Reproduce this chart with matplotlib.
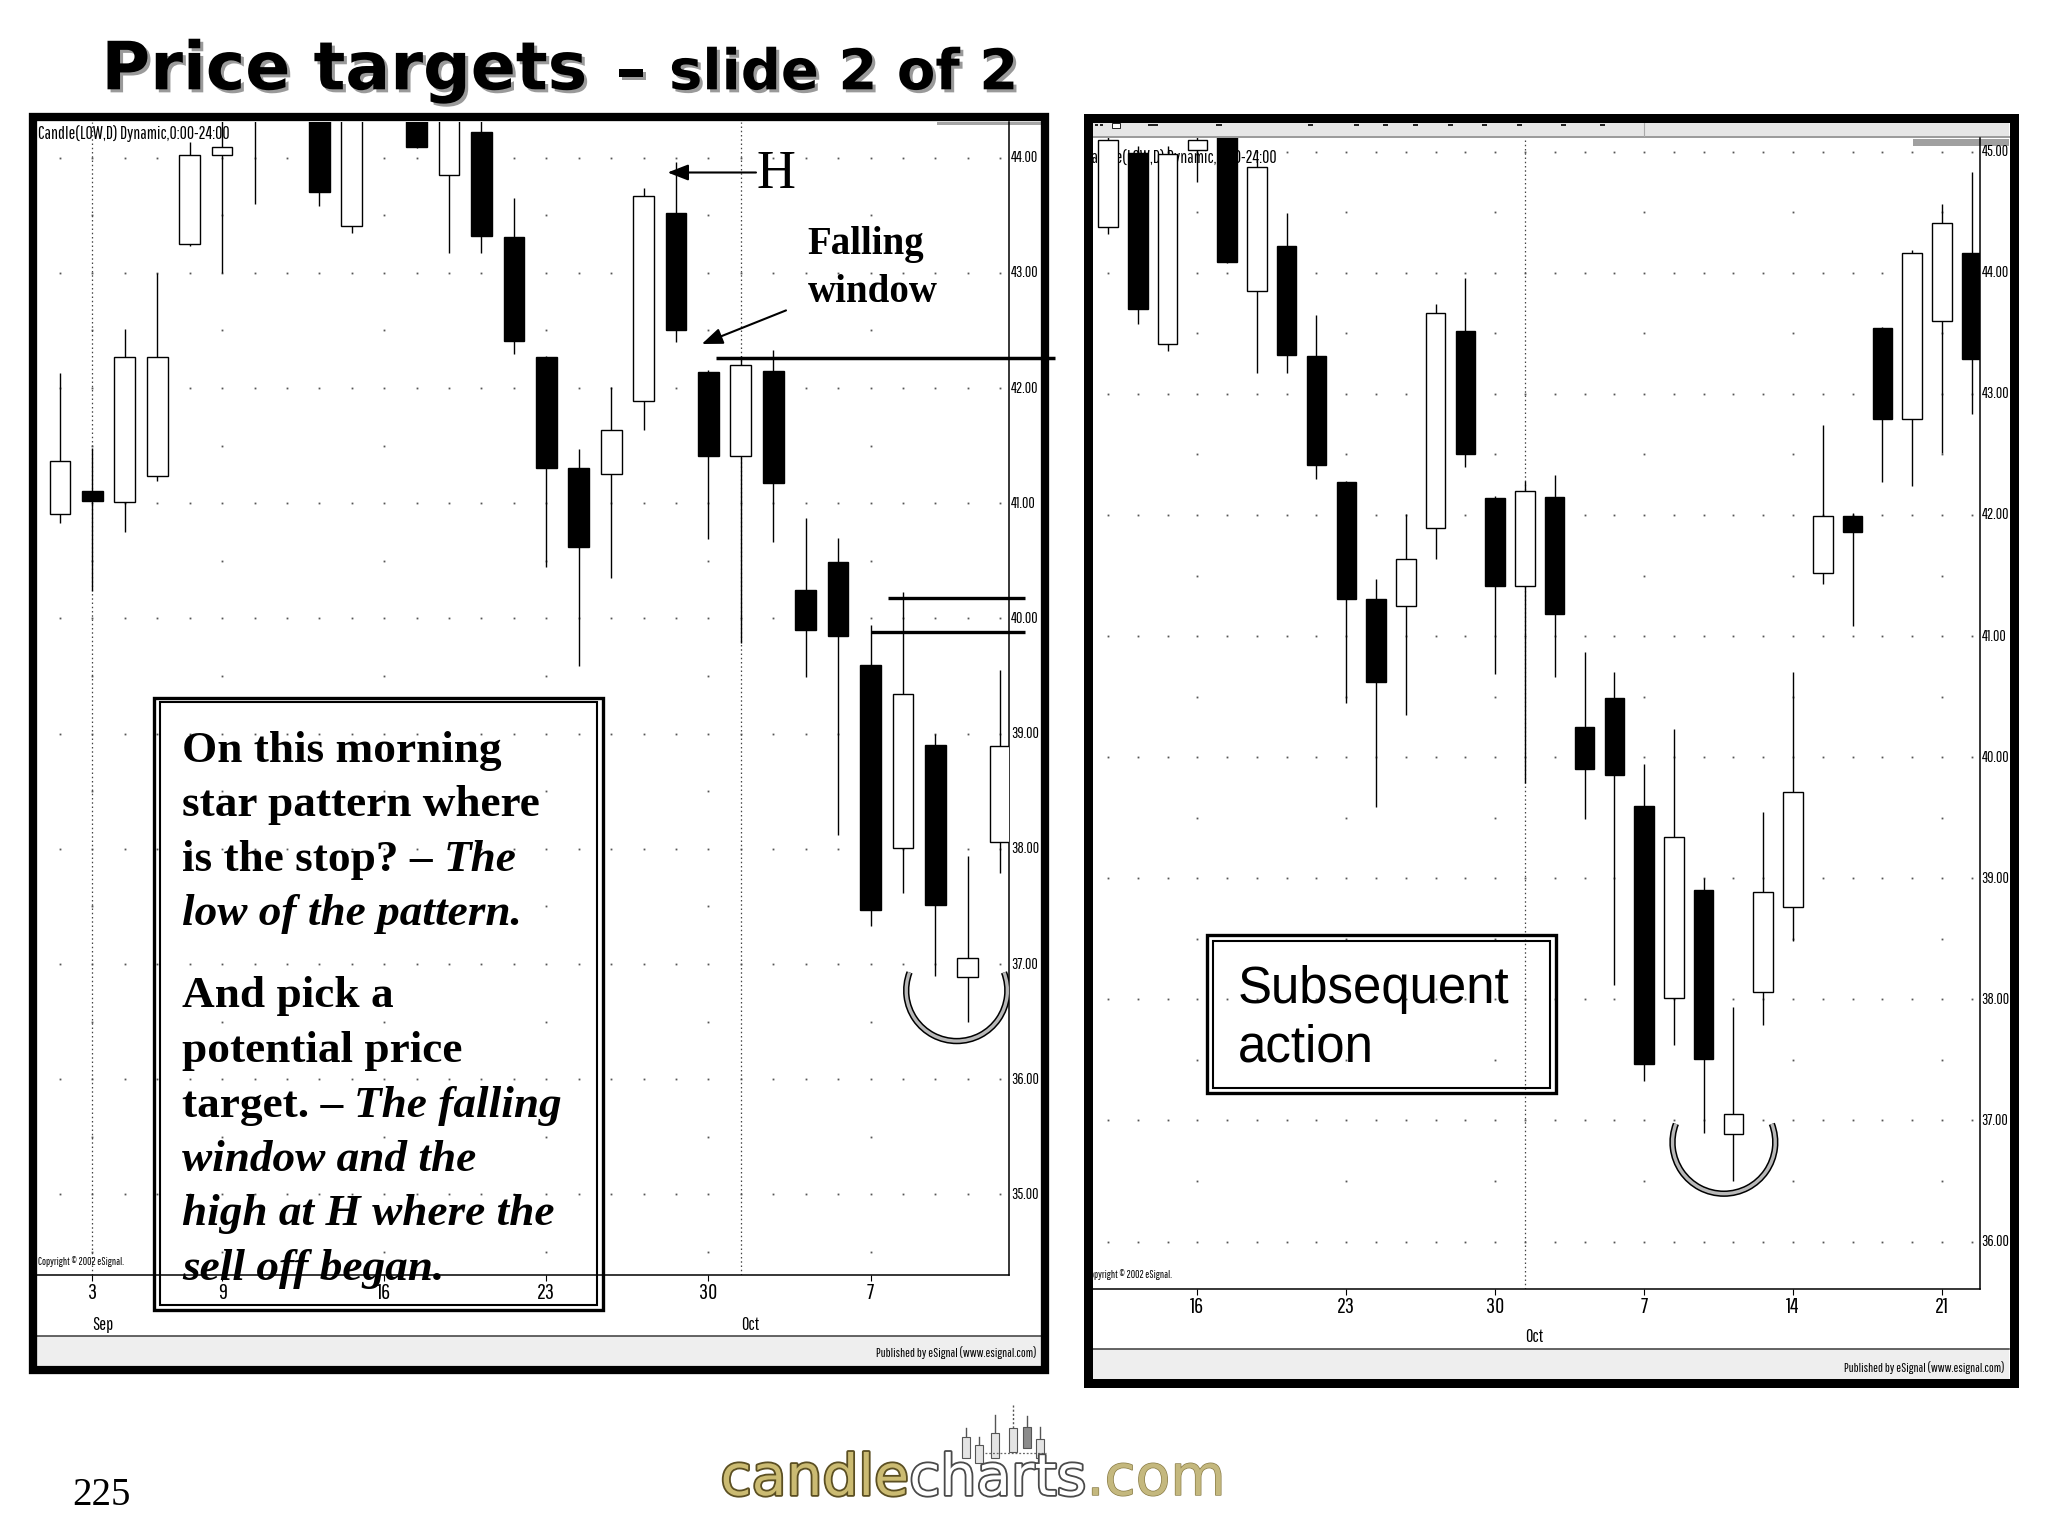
import numpy as np
import matplotlib
matplotlib.use("Agg")
import matplotlib.pyplot as plt
import matplotlib.patheffects as pe
from matplotlib import font_manager, transforms
from matplotlib.patches import Rectangle, Arc

W, H = 2048, 1536
SERIF = "Liberation Serif"
SANS = "Liberation Sans"

# daily candles 30 Aug - 22 Oct 2002
days = ["Aug 30",
        "Sep 3", "Sep 4", "Sep 5", "Sep 6",
        "Sep 9", "Sep 10", "Sep 11", "Sep 12", "Sep 13",
        "Sep 16", "Sep 17", "Sep 18", "Sep 19", "Sep 20",
        "Sep 23", "Sep 24", "Sep 25", "Sep 26", "Sep 27",
        "Sep 30", "Oct 1", "Oct 2", "Oct 3", "Oct 4",
        "Oct 7", "Oct 8", "Oct 9", "Oct 10", "Oct 11",
        "Oct 14", "Oct 15", "Oct 16", "Oct 17", "Oct 18",
        "Oct 21", "Oct 22"]
opens = [40.91, 41.11, 41.01, 41.24, 43.25, 44.02, 44.50, 44.38, 44.99, 43.41,
         45.01, 45.30, 43.85, 44.22, 43.31, 42.27, 41.31, 41.25, 41.89, 43.52,
         42.14, 41.41, 42.15, 40.25, 40.49, 39.60, 38.01, 38.90, 36.89, 38.06,
         38.76, 41.52, 41.99, 43.54, 42.79, 43.60, 44.16]
highs = [42.13, 41.48, 42.51, 43.00, 44.14, 44.50, 45.30, 45.30, 45.05, 45.05,
         45.20, 45.40, 44.94, 44.49, 43.65, 42.28, 41.47, 42.01, 43.74, 43.96,
         42.16, 42.28, 42.33, 40.87, 40.70, 39.94, 40.23, 39.00, 37.94, 39.55,
         40.70, 42.74, 42.02, 43.55, 44.19, 44.57, 44.83]
lows = [40.83, 40.24, 40.75, 41.19, 43.23, 43.00, 43.60, 44.32, 43.58, 43.35,
        44.75, 44.08, 43.17, 43.17, 42.30, 40.45, 39.59, 40.35, 41.64, 42.40,
        40.69, 39.79, 40.66, 39.49, 38.12, 37.33, 37.62, 36.90, 36.50, 37.79,
        38.48, 41.43, 41.08, 42.27, 42.24, 42.51, 42.83]
closes = [41.37, 41.02, 42.27, 42.27, 44.02, 44.09, 45.10, 45.10, 43.70, 44.98,
          45.10, 44.09, 44.87, 43.32, 42.41, 41.31, 40.62, 41.64, 43.67, 42.50,
          41.41, 42.20, 41.18, 39.90, 39.85, 37.47, 39.34, 37.51, 37.05, 38.89,
          39.71, 41.99, 41.86, 42.79, 44.16, 44.41, 43.29]

left_week_days = ["Sep 3", "Sep 9", "Sep 16", "Sep 23", "Sep 30", "Oct 7"]
left_week_labels = ["3", "9", "16", "23", "30", "7"]
left_month_days = ["Sep 3", "Oct 1"]
left_month_labels = ["Sep", "Oct"]
left_levels = [35, 36, 37, 38, 39, 40, 41, 42, 43, 44]

right_week_days = ["Sep 16", "Sep 23", "Sep 30", "Oct 7", "Oct 14", "Oct 21"]
right_week_labels = ["16", "23", "30", "7", "14", "21"]
right_month_days = ["Oct 1"]
right_month_labels = ["Oct"]
right_levels = [36, 37, 38, 39, 40, 41, 42, 43, 44, 45]

# annotation prices
WINDOW_PRICE = 42.26
TARGET_PRICES = [40.18, 39.88]

# narrow face for the eSignal chart labels
_names = {f.name for f in font_manager.fontManager.ttflist}
NARROW = {"family": "DejaVu Sans"}
for _n in ["Pathway Gothic One", "Sofia Sans Extra Condensed", "Roboto Condensed",
           "Liberation Sans Narrow"]:
    if _n in _names:
        NARROW = {"family": _n}
        break

fig = plt.figure(figsize=(W / 100, H / 100), dpi=100, facecolor="white")
page = fig.add_axes([0, 0, 1, 1], label="page", zorder=0)
page.set_xlim(0, W)
page.set_ylim(H, 0)
page.axis("off")
top = fig.add_axes([0, 0, 1, 1], label="top", zorder=10)
top.set_xlim(0, W)
top.set_ylim(H, 0)
top.axis("off")
renderer = fig.canvas.get_renderer()


def measure(s, **kw):
    t = top.text(0, 0, s, **kw)
    w = t.get_window_extent(renderer).width
    t.remove()
    return w


def fit_size(s, target, size0=10, **kw):
    return size0 * target / measure(s, fontsize=size0, **kw)


def px_axes(x0, y0, x1, y1, label):
    ax = fig.add_axes([x0 / W, 1 - y1 / H, (x1 - x0) / W, (y1 - y0) / H],
                      label=label, zorder=2)
    ax.patch.set_visible(False)
    return ax


def frame(x0, y0, x1, y1, t):
    page.add_patch(Rectangle((x0 + t / 2, y0 + t / 2), x1 - x0 - t, y1 - y0 - t,
                             fill=False, ec="black", lw=t * 0.72,
                             joinstyle="miter", zorder=5))


YLAB_FS = min(20, fit_size("44.00", 27, **NARROW))
DATE_FS = min(20, fit_size("16", 14, **NARROW))
MONTH_FS = min(20, fit_size("Sep", 21, **NARROW))
COPY_FS = fit_size("Copyright \u00a9 2002 eSignal.", 86, **NARROW)
PUB_FS = fit_size("Published by eSignal (www.esignal.com)", 160, **NARROW)
HEAD_FS = fit_size("Candle(LOW,D) Dynamic,0:00-24:00", 190, **NARROW)


def candle_panel(ax, first, last, body_w, xlim, ylim, levels, week_days, week_labels,
                 month_days, month_labels, axis_px, date_y, month_y, head_xy, copy_xy):
    o = np.array(opens[first:last + 1])
    h = np.array(highs[first:last + 1])
    l = np.array(lows[first:last + 1])
    c = np.array(closes[first:last + 1])
    x = np.arange(len(o))

    # dotted grid: every day on whole dollars, weekly on half dollars
    gx, gy = np.meshgrid(x, levels)
    ax.plot(gx.ravel(), gy.ravel(), ls="none", marker="s", ms=1.3, color="#555555",
            mew=0, zorder=1)
    wx = np.array([days.index(d) - first for d in week_days])
    halves = [v + 0.5 for v in [levels[0] - 1] + levels if ylim[0] < v + 0.5 < ylim[1]]
    hx, hy = np.meshgrid(wx, halves)
    ax.plot(hx.ravel(), hy.ravel(), ls="none", marker="s", ms=1.3, color="#555555",
            mew=0, zorder=1)
    mx = [days.index(d) - first for d in month_days]
    for m in mx:
        ax.axvline(m, color="#444444", lw=0.9, ls=(0, (1.2, 2.2)), zorder=1)

    ax.vlines(x, l, h, color="black", lw=1.0, zorder=3)
    up = c >= o
    ax.bar(x[up], (c - o)[up], width=body_w, bottom=o[up], color="white",
           edgecolor="black", linewidth=1.0, zorder=4)
    ax.bar(x[~up], (o - c)[~up], width=body_w, bottom=c[~up], color="black",
           edgecolor="black", linewidth=1.0, zorder=4)

    ax.set_xlim(*xlim)
    ax.set_ylim(*ylim)
    for side in ("top", "left"):
        ax.spines[side].set_visible(False)
    for side in ("right", "bottom"):
        ax.spines[side].set_linewidth(1.1)
    ax.set_yticks([])
    ax.set_xticks(wx)
    ax.tick_params(axis="x", length=4, width=0.8, direction="out", labelbottom=False)

    ytr = transforms.blended_transform_factory(page.transData, ax.transData)
    for v in levels:
        ax.text(axis_px + 1.5, v, f"{v:.2f}", transform=ytr, ha="left", va="center",
                fontsize=YLAB_FS, clip_on=False, **NARROW)
    xtr = transforms.blended_transform_factory(ax.transData, page.transData)
    for xv, lab in zip(wx, week_labels):
        ax.text(xv, date_y, lab, transform=xtr, ha="center", va="center",
                fontsize=DATE_FS, clip_on=False, **NARROW)
    for xv, lab in zip(mx, month_labels):
        ax.text(xv, month_y, lab, transform=xtr, ha="left", va="center",
                fontsize=MONTH_FS, clip_on=False, **NARROW)

    ax.text(head_xy[0], head_xy[1], "Candle(LOW,D) Dynamic,0:00-24:00",
            transform=page.transData, ha="left", va="center", fontsize=HEAD_FS,
            clip_on=True, zorder=2, **NARROW)
    ax.text(copy_xy[0], copy_xy[1], "Copyright \u00a9 2002 eSignal.",
            transform=page.transData, ha="left", va="center", fontsize=COPY_FS,
            clip_on=True, zorder=2, **NARROW)


def arc(ax, cx, cy, w, h, open_deg=21):
    # Arc takes its angles in data space; convert from the ellipse's own angle
    phi = np.deg2rad(open_deg)
    th = np.rad2deg(np.arctan2(h * np.sin(phi), w * np.cos(phi)))
    for lw, col, z in [(4.6, "black", 6), (2.4, "#b8b8b8", 7)]:
        ax.add_patch(Arc((cx, cy), w, h, theta1=180 - th, theta2=th, lw=lw, color=col,
                         capstyle="butt", zorder=z))


# ---------------- left panel ----------------
frame(29.3, 113.3, 1049.3, 1374.0, 8.3)
page.add_patch(Rectangle((37.3, 1335.7), 1003.4, 29.3, fc="#eeeeee", ec="none", zorder=1))
page.plot([37.3, 1040.7], [1335.7, 1335.7], color="#3a3a3a", lw=1.1, zorder=2)
page.add_patch(Rectangle((937, 122), 104, 3.2, fc="#a5a5a5", ec="none", zorder=2))
page.text(1036.7, 1352.7, "Published by eSignal (www.esignal.com)", ha="right",
          va="center", fontsize=PUB_FS, zorder=3, **NARROW)

ax_l = px_axes(37.3, 122.0, 1009.3, 1275.0, "left")
candle_panel(ax_l, 0, 29, 0.64, (-0.70, 29.28), (34.30, 44.31), left_levels,
             left_week_days, left_week_labels, left_month_days, left_month_labels,
             1009.3, 1292.7, 1325.0, (37.5, 134.0), (37.5, 1261.7))
ax_l.plot([20.23, 30.69], [WINDOW_PRICE] * 2, color="black", lw=2.5, clip_on=False,
          solid_capstyle="butt", zorder=8)
ax_l.plot([25.54, 29.75], [TARGET_PRICES[0]] * 2, color="black", lw=2.4, clip_on=False,
          solid_capstyle="butt", zorder=8)
ax_l.plot([25.01, 29.75], [TARGET_PRICES[1]] * 2, color="black", lw=2.4, clip_on=False,
          solid_capstyle="butt", zorder=8)
arc(ax_l, 27.66, 36.77, 3.12, 0.878)

# ---------------- right panel ----------------
frame(1083.3, 113.3, 2018.3, 1387.3, 9.0)
page.add_patch(Rectangle((1092.7, 122.7), 916.6, 13.6, fc="#e6e6e6", ec="none", zorder=1))
page.plot([1092.7, 2009.3], [137.0, 137.0], color="#9a9a9a", lw=1.4, zorder=2)
page.add_patch(Rectangle((1913, 139.3), 96.3, 6.5, fc="#a0a0a0", ec="none", zorder=2))
for tx, tw in [(1095, 3), (1100, 3), (1148, 10), (1216, 6), (1308, 5), (1354, 5),
               (1383, 5), (1413, 5), (1448, 5), (1482, 5), (1517, 5), (1561, 5), (1600, 5)]:
    page.add_patch(Rectangle((tx, 123.6), tw, 2.2, fc="#222222", ec="none", zorder=3))
page.add_patch(Rectangle((1112, 123.2), 8, 4.5, fc="white", ec="#222222", lw=0.7, zorder=3))
page.plot([1644, 1644], [123, 136], color="#aaaaaa", lw=0.8, zorder=3)
page.add_patch(Rectangle((1092.7, 1349.3), 916.6, 29.2, fc="#eeeeee", ec="none", zorder=1))
page.plot([1092.7, 2009.3], [1349.3, 1349.3], color="#3a3a3a", lw=1.1, zorder=2)
page.text(2005.0, 1367.3, "Published by eSignal (www.esignal.com)", ha="right",
          va="center", fontsize=PUB_FS, zorder=3, **NARROW)

ax_r = px_axes(1092.7, 138.0, 1980.0, 1289.3, "right")
candle_panel(ax_r, 7, 36, 0.655, (-0.514, 29.28), (35.606, 45.113), right_levels,
             right_week_days, right_week_labels, right_month_days, right_month_labels,
             1980.0, 1307.0, 1337.0, (1085.0, 158.0), (1085.5, 1275.0))
arc(ax_r, 20.68, 36.82, 3.45, 0.849)

# ---------------- annotations ----------------
arrow = dict(arrowstyle="-|>,head_length=0.9,head_width=0.35", lw=1.5, color="black",
             shrinkA=0, shrinkB=0, mutation_scale=14)
top.annotate("", xy=(667.6, 172.5), xytext=(756, 172.5), arrowprops=arrow)
top.text(756, 188.4, "H", family=SERIF, fontsize=39, ha="left", va="baseline")
top.annotate("", xy=(701.8, 344.0), xytext=(786, 310.4), arrowprops=arrow)
top.text(807.6, 254.3, "Falling", family=SERIF, weight="bold", fontsize=28,
         ha="left", va="baseline")
top.text(807.6, 301.8, "window", family=SERIF, weight="bold", fontsize=28,
         ha="left", va="baseline")

# morning star question box
top.add_patch(Rectangle((153.6, 697.7), 449.6, 612.1, fill=False, ec="black", lw=2.4))
top.add_patch(Rectangle((159.5, 702.4), 437.1, 602.2, fill=False, ec="black", lw=1.5))
box_lines = [
    [("On this morning", "normal")],
    [("star pattern where", "normal")],
    [("is the stop? \u2013", "normal"), ("The", "italic")],
    [("low of the pattern.", "italic")],
    [("And pick a", "normal")],
    [("potential price", "normal")],
    [("target. \u2013", "normal"), ("The falling", "italic")],
    [("window and the", "italic")],
    [("high at H where the", "italic")],
    [("sell off began.", "italic")],
]
baselines = [761.6, 816.1, 870.6, 925.1, 1007.5, 1062.0, 1116.5, 1171.0, 1225.5, 1280.0]
BOX_FS = 32.6
for parts, yb in zip(box_lines, baselines):
    x = 182.5
    for i, (s, st) in enumerate(parts):
        kw = dict(fontsize=BOX_FS, family=SERIF, weight="bold", style=st)
        top.text(x, yb, s, ha="left", va="baseline", **kw)
        if i + 1 < len(parts):
            nxt = parts[i + 1][0][0]
            x += measure(s + " " + nxt, **kw) - measure(nxt, **kw)

# subsequent action box
top.add_patch(Rectangle((1207.3, 934.9), 348.8, 158.5, fill=False, ec="black", lw=2.4))
top.add_patch(Rectangle((1213.4, 940.5), 336.6, 147.8, fill=False, ec="black", lw=1.5))
top.text(1237.9, 1002.6, "Subsequent", family=SANS, fontsize=36.7, ha="left", va="baseline")
top.text(1237.9, 1061.3, "action", family=SANS, fontsize=36.7, ha="left", va="baseline")

# ---------------- title ----------------
shadow = [pe.SimplePatchShadow(offset=(2.2, -2.2), shadow_rgbFace="#9a9a9a", alpha=1.0),
          pe.Normal()]
tkw = dict(family="DejaVu Sans", weight="bold")
big = fit_size("Price targets", 486, 48, **tkw)
small = fit_size("slide 2 of 2", 349, 40, **tkw)
top.text(101.4, 89.3, "Price targets", fontsize=big, ha="left", va="baseline",
         path_effects=shadow, **tkw)
top.text(616.0, 89.3, "\u2013", fontsize=big * 0.9, ha="left", va="baseline",
         path_effects=shadow, **tkw)
top.text(669.0, 89.3, "slide 2 of 2", fontsize=small, ha="left", va="baseline",
         path_effects=shadow, **tkw)

# ---------------- footer ----------------
top.text(72, 1504.6, "225", family=SERIF, fontsize=28, ha="left", va="baseline")

# logo candles
icon_x = [966, 978.6, 995, 1013, 1027, 1039.7]
icon_top = [1436.7, 1445, 1432.7, 1428.3, 1426.7, 1439.3]
icon_bot = [1458.3, 1463.3, 1458.3, 1451.7, 1448.3, 1458.3]
icon_wick = [1428.3, 1436.7, 1415, 1405, 1416, 1426.7]
for i, (cx, t0, b0, w0) in enumerate(zip(icon_x, icon_top, icon_bot, icon_wick)):
    top.plot([cx, cx], [w0, t0], color="#555555", lw=1.0,
             ls=(0, (1.5, 1.5)) if i == 3 else "-", zorder=3)
    top.add_patch(Rectangle((cx - 4, t0), 8, b0 - t0, fc="#8c8c8c" if i == 4 else "#e4e4e4",
                            ec="#555555", lw=0.8, zorder=3))
top.plot([985, 1046], [1452.7, 1452.7], color="#666666", lw=0.9, ls=(0, (1.5, 1.5)), zorder=3)

lkw = dict(family="DejaVu Sans")
LOGO_FS = fit_size("candlecharts.com", 504, 40, **lkw)
lkw["fontsize"] = LOGO_FS
x0, yb = 720.5, 1495.0
top.text(x0, yb, "candle", ha="left", va="baseline", color="#cbbb72", zorder=5,
         path_effects=[pe.withStroke(linewidth=2.6, foreground="#5b4f22")], **lkw)
x1 = x0 + measure("candlec", **lkw) - measure("c", **lkw)
top.text(x1, yb, "charts", ha="left", va="baseline", color="white", zorder=5,
         path_effects=[pe.withStroke(linewidth=2.6, foreground="#4a4a4a")], **lkw)
x2 = x0 + measure("candlecharts.", **lkw) - measure(".", **lkw)
top.text(x2, yb, ".com", ha="left", va="baseline", color="#c4b87e", zorder=5,
         path_effects=[pe.withStroke(linewidth=1.0, foreground="#8a7d48")], **lkw)

fig.savefig("out.png", dpi=100)
